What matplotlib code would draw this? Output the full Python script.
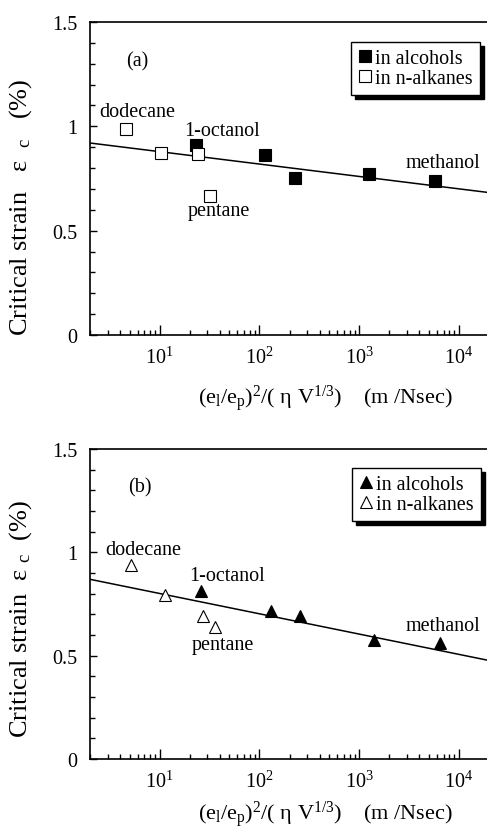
import numpy as np
import matplotlib
matplotlib.use("Agg")
import matplotlib.pyplot as plt
from matplotlib.ticker import LogLocator, NullFormatter, FixedLocator, FuncFormatter

plt.rcParams['font.family'] = ['Liberation Serif', 'DejaVu Serif']
plt.rcParams['mathtext.fontset'] = 'custom'
plt.rcParams['mathtext.rm'] = 'Liberation Serif'
plt.rcParams['mathtext.it'] = 'Liberation Serif:italic'

# (a) squares
alc_x_a = [23.3, 114, 229, 1259, 5710]
alc_y_a = [0.911, 0.864, 0.752, 0.772, 0.740]
alk_x_a = [4.6, 10.2, 24, 32]
alk_y_a = [0.987, 0.871, 0.866, 0.668]
fit_a = (0.938, -0.0594)   # intercept, slope per decade

# (b) triangles
alc_x_b = [25.9, 131, 257, 1413, 6412]
alc_y_b = [0.815, 0.714, 0.690, 0.577, 0.563]
alk_x_b = [5.2, 11.4, 27.1, 35.5]
alk_y_b = [0.940, 0.795, 0.694, 0.637]
fit_b = (0.899, -0.0982)

# solvent names written next to the points
names = ['dodecane', '1-octanol', 'pentane', 'methanol']
name_pos_a = [(6.0, 1.073), (42.2, 0.982), (38.9, 0.599), (6840, 0.829)]
name_pos_b = [(6.84, 1.016), (47.1, 0.890), (43.0, 0.556), (6918, 0.644)]

xlim = (2, 2e4)
ylim = (0, 1.5)

W, H = 487, 829
fig = plt.figure(figsize=(W / 100, H / 100), dpi=100)


def panel(rect, tag, alc_x, alc_y, alk_x, alk_y, fit, name_pos, marker,
          leg_anchor, tag_pos, ylab, ylab_y, xlab_y):
    l, t, r, b = rect
    ax = fig.add_axes([l / W, 1 - b / H, (r - l) / W, (b - t) / H])
    xs = np.logspace(np.log10(xlim[0]), np.log10(xlim[1]), 50)
    ax.plot(xs, fit[0] + fit[1] * np.log10(xs), color='k', lw=1.1, zorder=2)
    ax.plot(alc_x, alc_y, ls='none', marker=marker, ms=8, mfc='k', mec='k',
            mew=0.8, label='in alcohols', zorder=3)
    ax.plot(alk_x, alk_y, ls='none', marker=marker, ms=8, mfc='white', mec='k',
            mew=0.8, label='in n-alkanes', zorder=4)
    for name, (nx, ny) in zip(names, name_pos):
        ax.text(nx, ny, name, fontsize=14.5, ha='center', va='center')
    ax.text(tag_pos[0], tag_pos[1], tag, fontsize=14.5, ha='center', va='center',
            transform=ax.transAxes)

    ax.set_xscale('log')
    ax.set_xlim(*xlim)
    ax.set_ylim(*ylim)
    ax.xaxis.set_major_locator(LogLocator(base=10, numticks=10))
    ax.xaxis.set_minor_locator(LogLocator(base=10, subs=np.arange(2, 10), numticks=20))
    ax.xaxis.set_minor_formatter(NullFormatter())
    ax.yaxis.set_major_locator(FixedLocator([0, 0.5, 1, 1.5]))
    ax.yaxis.set_minor_locator(FixedLocator(np.arange(0, 1.51, 0.1)))
    ax.yaxis.set_major_formatter(FuncFormatter(lambda v, p: '%g' % v))
    ax.tick_params(which='both', direction='in', top=False, right=False,
                   labelsize=14.5, width=1.0)
    ax.tick_params(axis='x', which='major', length=7.5, pad=8)
    ax.tick_params(axis='x', which='minor', length=3.5)
    ax.tick_params(axis='y', which='major', length=5, pad=9)
    ax.tick_params(axis='y', which='minor', length=3.5)
    for s in ax.spines.values():
        s.set_linewidth(1.2)

    ax.set_ylabel(ylab, fontsize=19)
    ax.yaxis.set_label_coords(-0.14, ylab_y)
    ax.set_xlabel(r'(e$_{\rm l}$/e$_{\rm p}$)$^{2}$/( η V$^{1/3}$)    (m /Nsec)',
                  fontsize=16)
    ax.xaxis.set_label_coords(0.59, xlab_y)

    leg = ax.legend(loc='upper right', bbox_to_anchor=leg_anchor, borderaxespad=0,
                    fontsize=14.5, handlelength=0.7, handletextpad=0.15,
                    labelspacing=0.05, borderpad=0.35, fancybox=False,
                    framealpha=1, edgecolor='k',
                    shadow={'ox': 3, 'oy': -3, 'color': 'k', 'alpha': 1})
    leg.get_frame().set_linewidth(1.0)
    return ax


panel((90, 23, 489, 336), '(a)', alc_x_a, alc_y_a, alk_x_a, alk_y_a, fit_a,
      name_pos_a, 's', (0.977, 0.936), (0.118, 0.875),
      r'Critical strain   ε  $_{\rm c}$   (%)', 0.41, -0.15)
panel((90, 450, 489, 760), '(b)', alc_x_b, alc_y_b, alk_x_b, alk_y_b, fit_b,
      name_pos_b, '^', (0.98, 0.939), (0.125, 0.877),
      r'Critical strain  ε $_{\rm c}$  (%)', 0.455, -0.127)

fig.savefig('out.png', dpi=100)
